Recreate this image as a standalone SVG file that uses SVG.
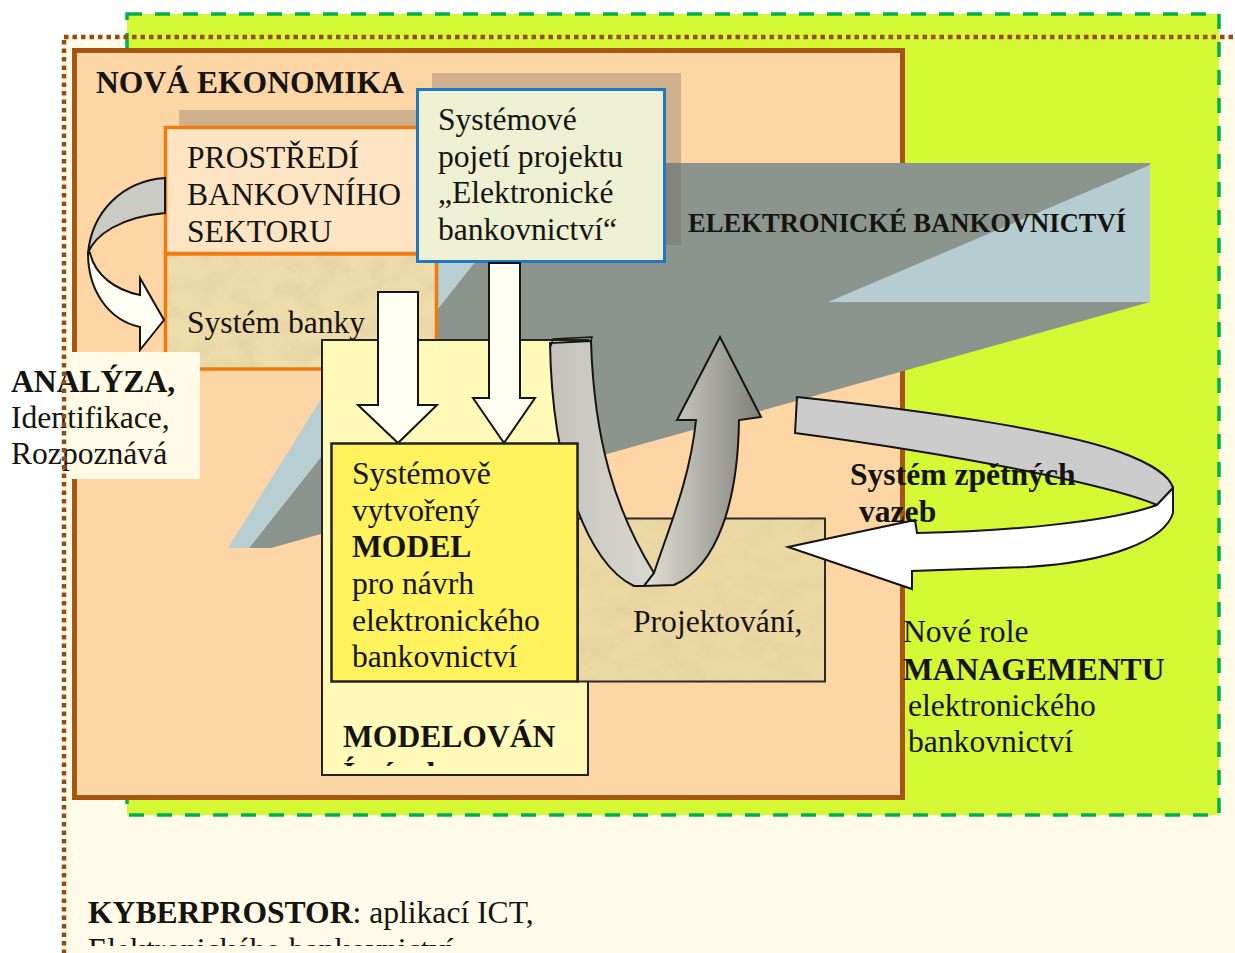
<svg xmlns="http://www.w3.org/2000/svg" width="1235" height="953" viewBox="0 0 1235 953">
  <defs>
    <style>
      .t { font-family: "Liberation Serif", "Times New Roman", serif; font-size: 31.6px; fill: #161410; }
      .b { font-weight: bold; }
      .eb { font-size: 26.6px; font-weight: bold; }
      .edge { stroke: #141414; stroke-width: 2; stroke-linejoin: miter; }
      .shadow { fill: rgb(110,100,90); fill-opacity: 0.33; }
      .orange { fill: none; stroke: #ee7a12; stroke-width: 3.5; }
    </style>
    <linearGradient id="ribFront" gradientUnits="userSpaceOnUse" x1="650" y1="0" x2="762" y2="0">
      <stop offset="0" stop-color="#dddbd2"/>
      <stop offset="1" stop-color="#7e8078"/>
    </linearGradient>
    <linearGradient id="ribBack" gradientUnits="userSpaceOnUse" x1="550" y1="0" x2="655" y2="0">
      <stop offset="0" stop-color="#c2c2ba"/>
      <stop offset="1" stop-color="#d9d9d1"/>
    </linearGradient>
    <filter id="parchment" x="0" y="0" width="1" height="1">
      <feTurbulence type="fractalNoise" baseFrequency="0.035 0.05" numOctaves="4" seed="7" result="noise"/>
      <feColorMatrix in="noise" type="matrix" values="0 0 0 0 0.74  0 0 0 0 0.6  0 0 0 0 0.34  1.3 0 0 0 -0.52" result="blot"/>
      <feComposite in="blot" in2="SourceGraphic" operator="atop"/>
    </filter>
    <clipPath id="modelovaniClip"><rect x="322" y="340" width="266" height="426"/></clipPath>
    <clipPath id="kyberClip"><rect x="64" y="880" width="620" height="66"/></clipPath>
  </defs>

  <rect x="0" y="0" width="1235" height="953" fill="#ffffff"/>

  <!-- outer cyberspace frame (fill) -->
  <g id="kyberprostor-frame">
    <rect x="64" y="37" width="1200" height="950" fill="#fffbe8"/>
  </g>

  <!-- management area -->
  <g id="management-area">
    <rect x="127" y="14" width="1092" height="801" fill="#d4f834" stroke="#00b050" stroke-width="3.5" stroke-dasharray="15 13"/>
  </g>

  <!-- new economy -->
  <g id="nova-ekonomika">
    <rect x="74.5" y="50.5" width="828" height="747" fill="#fed6a6" stroke="#a4560f" stroke-width="5"/>
    <text class="t b" x="96" y="93">NOVÁ EKONOMIKA</text>
  </g>

  <!-- electronic banking wedge -->
  <g id="elektronicke-bankovnictvi">
    <polygon points="249,548 478,258 478,163 1150,163 1150,302 271,548" fill="#8b948d"/>
    <polygon points="228,548 414,250 478,250 478,258 249,548" fill="#b7ced2"/>
    <polygon points="828,302 1150,165 1150,302" fill="#b5cdd0"/>
    <text class="t eb" x="688" y="232">ELEKTRONICKÉ BANKOVNICTVÍ</text>
  </g>

  <!-- banking sector environment -->
  <g id="prostredi">
    <rect class="shadow" x="179" y="110" width="262" height="128"/>
    <rect x="165.5" y="127.5" width="262" height="126" fill="#fde5c4"/>
    <rect class="orange" x="165.5" y="127.5" width="262" height="126"/>
    <text class="t" x="187" y="168">PROSTŘEDÍ</text>
    <text class="t" x="187" y="205">BANKOVNÍHO</text>
    <text class="t" x="187" y="242">SEKTORU</text>
  </g>

  <!-- bank system -->
  <g id="system-banky">
    <rect x="165.5" y="254" width="271" height="115" fill="#eedcab" filter="url(#parchment)"/>
    <rect class="orange" x="165.5" y="254" width="271" height="115"/>
    <text class="t" x="187" y="333">Systém banky</text>
  </g>

  <!-- system view of the project -->
  <g id="systemove-pojeti">
    <rect class="shadow" x="432" y="73" width="249" height="172"/>
    <rect x="417.5" y="89.5" width="247" height="172" fill="#edf0d2" stroke="#2176c6" stroke-width="3"/>
    <text class="t" x="438" y="130">Systémové</text>
    <text class="t" x="438" y="167">pojetí projektu</text>
    <text class="t" x="438" y="203">„Elektronické</text>
    <text class="t" x="438" y="240">bankovnictví“</text>
  </g>

  <!-- modelling -->
  <g id="modelovani">
    <rect x="322" y="340" width="266" height="435" fill="#fffab8" stroke="#222" stroke-width="2"/>
    <text class="t b" x="343" y="747">MODELOVÁN</text>
    <g clip-path="url(#modelovaniClip)">
      <text class="t b" x="343" y="784">Í návrh</text>
    </g>
  </g>

  <!-- design -->
  <g id="projektovani">
    <rect x="578" y="518.5" width="247" height="163" fill="#ecd9a3" filter="url(#parchment)"/>
    <rect x="578" y="518.5" width="247" height="163" fill="none" stroke="#2a2a2a" stroke-width="2"/>
    <text class="t" x="633" y="632">Projektování,</text>
  </g>

  <!-- connectors -->
  <g id="connectors">
    <!-- environment to bank system -->
    <path class="edge" d="M165,178 C122,181 92,212 88,253 C95,235 120,217 165,213 Z" fill="#cbcbc5"/>
    <path class="edge" d="M88,253 C88,290 108,320 140,327 L140,350 L164,320 L140,278 L140,295 C115,290 95,275 90,253 Z" fill="#fffff4"/>
    <!-- into the model -->
    <path class="edge" d="M378,292 H418 V405 H437 L398,443 L358,405 H378 Z" fill="#fffff2"/>
    <path class="edge" d="M489,263 H520 V398 H535 L504,443 L473,398 H489 Z" fill="#fffff2"/>
    <!-- model / design loop -->
    <path class="edge" d="M550,343 L591,341 C594,440 615,510 654,573 L644,586 L634,586 C588,565 552,470 550,343 Z" fill="url(#ribBack)"/>
    <path d="M551,346 L553,339 L592,337 L591,341" fill="none" stroke="#141414" stroke-width="1.5"/>
    <path class="edge" d="M654,573 C668,530 690,480 696,420 L677,420 L720,337 L761,417 L739,420 C738,500 718,566 674,585 L644,586 Z" fill="url(#ribFront)"/>
    <!-- feedback loop -->
    <path class="edge" d="M797,397 C920,410 1060,430 1120,452 C1150,463 1170,476 1173,488 L1157,505 C1110,485 960,455 795,433 Z" fill="#cccccc"/>
    <path class="edge" d="M1173,488 L1173,513 C1165,540 1110,562 1027,567 L912,571 L912,589 L788,547 L915,520 L917,533 C1010,531 1110,522 1157,505 Z" fill="#ffffff"/>
  </g>

  <!-- system-built model -->
  <g id="model">
    <rect x="331.5" y="443.5" width="246" height="238" fill="#fff25c" stroke="#222" stroke-width="2.5"/>
    <text class="t" x="352" y="484">Systémově</text>
    <text class="t" x="352" y="521">vytvořený</text>
    <text class="t b" x="352" y="557">MODEL</text>
    <text class="t" x="352" y="594">pro návrh</text>
    <text class="t" x="352" y="631">elektronického</text>
    <text class="t" x="352" y="667">bankovnictví</text>
  </g>

  <g id="zpetne-vazby">
    <text class="t b" x="850" y="485">Systém zpětných</text>
    <text class="t b" x="859" y="522">vazeb</text>
  </g>

  <g id="management">
    <text class="t" x="903" y="642">Nové role</text>
    <text class="t b" x="903" y="680">MANAGEMENTU</text>
    <text class="t" x="908" y="716">elektronického</text>
    <text class="t" x="908" y="752">bankovnictví</text>
  </g>

  <g id="analyza">
    <rect x="66" y="352" width="134" height="127" fill="#fffbe6"/>
    <text class="t b" x="11" y="392">ANALÝZA,</text>
    <text class="t" x="11" y="428">Identifikace,</text>
    <text class="t" x="11" y="464">Rozpoznává</text>
  </g>

  <!-- cyberspace frame outline and caption -->
  <g id="kyberprostor">
    <rect x="64" y="37" width="1200" height="950" fill="none" stroke="#9a4a0a" stroke-width="4.5" stroke-dasharray="4.5 4"/>
    <text class="t" x="88" y="923"><tspan class="b">KYBERPROSTOR</tspan>: aplikací ICT,</text>
    <g clip-path="url(#kyberClip)">
      <text class="t" x="88" y="960">Elektronického bankovnictví</text>
    </g>
  </g>
</svg>
